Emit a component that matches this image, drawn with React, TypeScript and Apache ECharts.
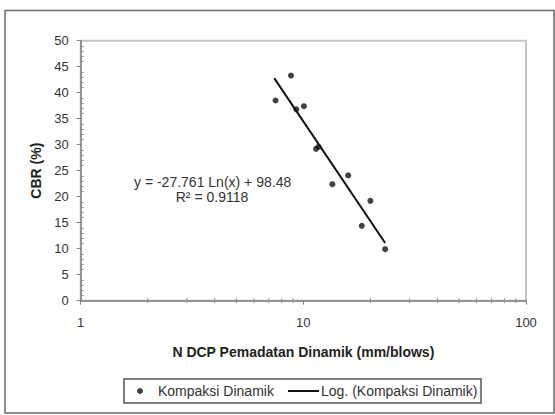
import React, { useEffect, useRef } from "react";
import * as echarts from "echarts";

// Data
const seriesName = "Kompaksi Dinamik";
const trendName = "Log. (Kompaksi Dinamik)";
const xValues = [7.5, 8.8, 9.3, 10.06, 11.4, 11.7, 13.5, 15.9, 18.3, 20.0, 23.3];
const yValues = [38.5, 43.3, 36.8, 37.4, 29.2, 29.6, 22.4, 24.1, 14.4, 19.2, 9.9];
const trendX = [7.4, 23.3];
const trendY = [42.8, 11.1];
const xMinorTicks = [2, 3, 4, 5, 6, 7, 8, 9, 20, 30, 40, 50, 60, 70, 80, 90];
const equationText = "y = -27.761 Ln(x) + 98.48";
const r2Text = "R² = 0.9118";
const xTitle = "N DCP Pemadatan Dinamik (mm/blows)";
const yTitle = "CBR (%)";

export default function App() {
  const ref = useRef<HTMLDivElement>(null);
  useEffect(() => {
    document.body.style.margin = "0";
    if (!ref.current) return;
    const chart = echarts.init(ref.current, null, { renderer: "svg" });
    const font = "'Liberation Sans', Arial, sans-serif";
    const option: any = {
      animation: false,
      backgroundColor: "#ffffff",
      textStyle: { fontFamily: font },
      grid: {
        left: 80.7,
        top: 40.7,
        right: 29,
        bottom: 114.3,
        show: true,
        borderColor: "#c4c4c4",
        borderWidth: 2,
        backgroundColor: "#ffffff",
      },
      xAxis: {
        type: "log",
        logBase: 10,
        min: 1,
        max: 100,
        name: xTitle,
        nameLocation: "middle",
        nameGap: 44,
        nameTextStyle: { fontSize: 14, fontWeight: "bold", color: "#222", fontFamily: font },
        axisLine: { show: true, onZero: false, lineStyle: { color: "#808080", width: 1.5 } },
        axisTick: { show: true, length: 4, lineStyle: { color: "#808080" } },
        axisLabel: { fontSize: 13, color: "#333", margin: 15, fontFamily: font },
        splitLine: { show: false },
      },
      yAxis: [
        {
          type: "value",
          min: 0,
          max: 50,
          interval: 5,
          name: yTitle,
          nameLocation: "middle",
          nameGap: 38,
          nameTextStyle: { fontSize: 14, fontWeight: "bold", color: "#222", fontFamily: font },
          axisLine: { show: true, lineStyle: { color: "#808080", width: 1.5 } },
          axisTick: { show: true, length: 4, lineStyle: { color: "#808080" } },
          axisLabel: { fontSize: 13, color: "#333", margin: 12, fontFamily: font },
          splitLine: { show: false },
        },
        {
          type: "value",
          min: 0,
          max: 50,
          interval: 5,
          position: "left",
          offset: 0,
          axisLine: { show: false },
          axisTick: { show: false, inside: true },
          minorTick: { show: true, splitNumber: 5, length: 3, lineStyle: { color: "#909090" } },
          axisLabel: { show: false },
          splitLine: { show: false },
        },
      ],
      legend: [
        {
          data: [{ name: seriesName, icon: "circle" }],
          left: 137,
          top: 384,
          padding: 0,
          itemWidth: 6,
          itemHeight: 14,
          textStyle: { fontSize: 14, color: "#333", fontFamily: font, padding: [0, 0, 0, 10] },
        },
        {
          data: [{ name: trendName, icon: "path://M0,0L31,0L31,2L0,2Z" }],
          left: 288,
          top: 384,
          padding: 0,
          itemWidth: 31,
          itemHeight: 14,
          symbolKeepAspect: true,
          textStyle: { fontSize: 14, color: "#333", fontFamily: font, padding: [0, 0, 0, -3] },
        },
      ],
      graphic: [
        {
          type: "rect",
          shape: { x: 5, y: 10.5, width: 549, height: 402.5 },
          style: { fill: "none", stroke: "#6a6a6a", lineWidth: 1.5 },
          silent: true,
        },
        {
          type: "rect",
          shape: { x: 124, y: 379, width: 357, height: 24 },
          style: { fill: "none", stroke: "#555", lineWidth: 1.5 },
          silent: true,
        },
        {
          type: "text",
          x: 134,
          y: 182,
          style: {
            text: equationText,
            fontSize: 14,
            fill: "#333",
            fontFamily: font,
            textVerticalAlign: "middle",
          },
        },
        {
          type: "text",
          x: 212,
          y: 197,
          style: {
            text: r2Text,
            fontSize: 14,
            fill: "#333",
            fontFamily: font,
            textAlign: "center",
            textVerticalAlign: "middle",
          },
        },
      ],
      series: [
        {
          type: "custom",
          name: "minorTicksX",
          silent: true,
          data: xMinorTicks.map((v) => [v, 0]),
          renderItem: (params: any, api: any) => {
            const p = api.coord([api.value(0), api.value(1)]);
            return {
              type: "line",
              shape: { x1: p[0], y1: p[1] - 2.5, x2: p[0], y2: p[1] + 2.5 },
              style: { stroke: "#909090", lineWidth: 1 },
            };
          },
          z: 3,
        },
        {
          type: "line",
          name: trendName,
          data: trendX.map((x, i) => [x, trendY[i]]),
          symbol: "none",
          lineStyle: { color: "#111", width: 2 },
          itemStyle: { color: "#111" },
          z: 4,
        },
        {
          type: "scatter",
          name: seriesName,
          data: xValues.map((x, i) => [x, yValues[i]]),
          symbol: "circle",
          symbolSize: 6,
          itemStyle: { color: "#111" },
          z: 5,
        },
      ],
    };
    chart.setOption(option);
    return () => chart.dispose();
  }, []);
  return <div ref={ref} style={{ width: 555, height: 415, position: "absolute", left: 0, top: 0 }} />;
}
